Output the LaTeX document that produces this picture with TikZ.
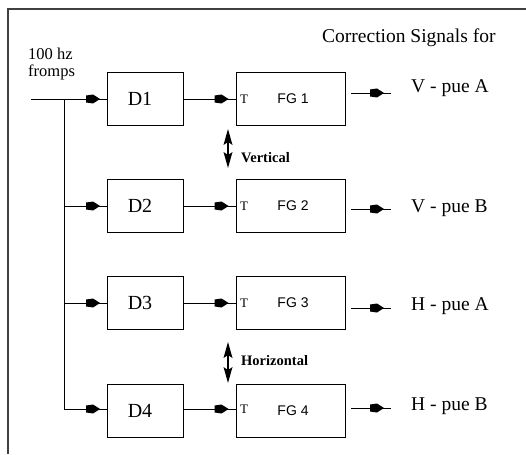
\documentclass[tikz,border=0pt]{standalone}
\usepackage{fontspec}
\setmainfont{Liberation Serif}
\newfontfamily\fgfont{Liberation Sans}
\usetikzlibrary{arrows.meta,decorations.markings}
\tikzset{
  blk/.style={draw,line width=0.9pt,inner sep=0pt},
  dbox/.style={blk,minimum width=76pt,minimum height=53pt},
  fgbox/.style={blk,minimum width=109pt,minimum height=53pt},
  wire/.style={line width=0.9pt,postaction={decorate},
    decoration={markings,mark=at position -7pt with {\fill (0pt,0pt) -- (-7pt,4.5pt) -- (-14pt,3.5pt) -- (-14pt,-3.5pt) -- (-7pt,-4.5pt) -- cycle;}}},
  plain/.style={line width=0.9pt},
  dbl/.style={line width=2.6pt,shorten <=8pt,shorten >=8pt,postaction={decorate},
    decoration={markings,
      mark=at position 0pt with {\fill (0pt,0pt) -- (16pt,4.5pt) -- (13pt,0pt) -- (16pt,-4.5pt) -- cycle;},
      mark=at position 1 with {\fill (0pt,0pt) -- (-16pt,4.5pt) -- (-13pt,0pt) -- (-16pt,-4.5pt) -- cycle;}}},
  dlab/.style={font=\fontsize{20}{22}\selectfont,inner sep=0pt},
  fglab/.style={font=\fgfont\fontsize{14}{16}\selectfont,inner sep=0pt},
  tlab/.style={font=\fontsize{13}{14}\selectfont,inner sep=0pt},
  outlab/.style={font=\fontsize{19.5}{22}\selectfont,inner sep=0pt,anchor=base west},
  small/.style={font=\fontsize{16.5}{18}\selectfont,inner sep=0pt,anchor=base west},
  bold/.style={font=\bfseries\fontsize{14.5}{16}\selectfont,inner sep=0pt,anchor=base west},
}
\begin{document}
\begin{tikzpicture}[x=1pt,y=-1pt]
\useasboundingbox (0,0) rectangle (526,454);
% frame
\draw[line width=1.4pt,black!75] (526,9) -- (8,9) -- (8,454);

% boxes
\node[dbox] (d1) at (145.5,98.5) {};
\node[dbox] (d2) at (145.5,205.5) {};
\node[dbox] (d3) at (145.5,302.5) {};
\node[dbox] (d4) at (145.5,410.5) {};
\node[fgbox] (f1) at (290.5,98.5) {};
\node[fgbox] (f2) at (290.5,205.5) {};
\node[fgbox] (f3) at (290.5,302.5) {};
\node[fgbox] (f4) at (290.5,410.5) {};

% labels in boxes
\node[dlab] (d1t) at (140,98.5) {D1};
\node[dlab] (d2t) at (140,205.5) {D2};
\node[dlab] (d3t) at (140,302.5) {D3};
\node[dlab] (d4t) at (140,410.5) {D4};
\node[fglab] (f1t) at (293,98.5) {FG 1};
\node[fglab] (f2t) at (293,205.5) {FG 2};
\node[fglab] (f3t) at (293,302.5) {FG 3};
\node[fglab] (f4t) at (293,410.5) {FG 4};
\node[tlab] (t1) at (244,99) {T};
\node[tlab] (t2) at (244,206) {T};
\node[tlab] (t3) at (244,303) {T};
\node[tlab] (t4) at (244,409) {T};

% input
\coordinate (in) at (31,99);
\coordinate (j1) at (64,99);
\coordinate (j2) at (64,206);
\coordinate (j3) at (64,303);
\coordinate (j4) at (64,409);
\node[small] (lin1) at (28,60) {100 hz};
\node[small] (lin2) at (28,77) {fromps};
\draw[plain] (in) -- (j1);
\draw[plain] (j1) -- (j4);
\draw[wire] (j1) -- (d1.west |- j1);
\draw[wire] (j2) -- (d2.west |- j2);
\draw[wire] (j3) -- (d3.west |- j3);
\draw[wire] (j4) -- (d4.west |- j4);

% D to FG
\draw[wire] (d1.east |- j1) -- (f1.west |- j1);
\draw[wire] (d2.east |- j2) -- (f2.west |- j2);
\draw[wire] (d3.east |- j3) -- (f3.west |- j3);
\draw[wire] (d4.east |- j4) -- (f4.west |- j4);

% outputs
\coordinate (o1a) at (351,93);  \coordinate (o1b) at (391,93);
\coordinate (o2a) at (351,209); \coordinate (o2b) at (391,209);
\coordinate (o3a) at (351,308); \coordinate (o3b) at (391,308);
\coordinate (o4a) at (351,408); \coordinate (o4b) at (391,408);
\draw[wire] (o1a) -- (o1b);
\draw[wire] (o2a) -- (o2b);
\draw[wire] (o3a) -- (o3b);
\draw[wire] (o4a) -- (o4b);
\node[outlab] (out1) at (411,93) {V - pue A};
\node[outlab] (out2) at (411,212) {V - pue B};
\node[outlab] (out3) at (411,310) {H - pue A};
\node[outlab] (out4) at (411,410) {H - pue B};
\node[outlab] (title) at (322,42.5) {Correction Signals for};

% double arrows
\coordinate (v1) at (228,129); \coordinate (v2) at (228,168);
\coordinate (h1) at (228,342); \coordinate (h2) at (228,383);
\draw[dbl] (v1) -- (v2);
\draw[dbl] (h1) -- (h2);
\node[bold] (vlab) at (241,163) {Vertical};
\node[bold] (hlab) at (241,365) {Horizontal};
\end{tikzpicture}
\end{document}
